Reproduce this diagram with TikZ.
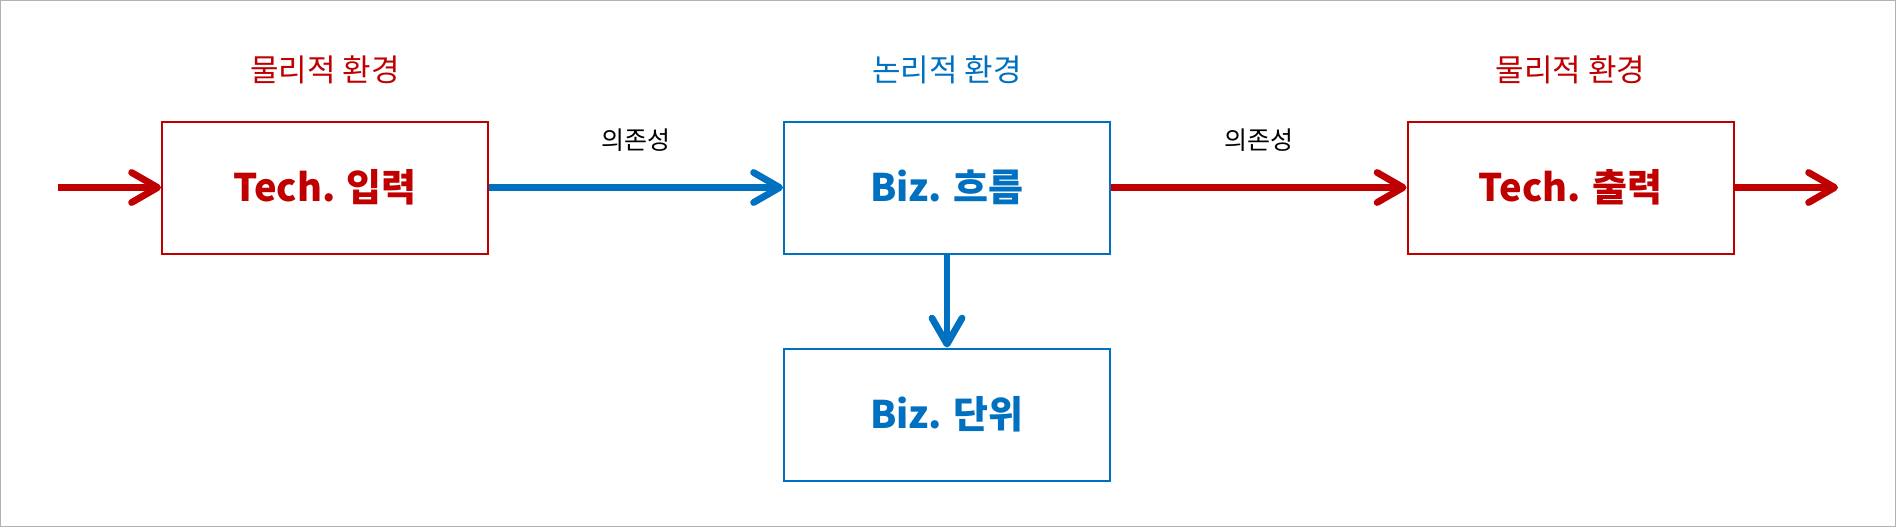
\documentclass[tikz,border=0pt]{standalone}
\usepackage{fontspec}
\setmainfont{Noto Sans CJK KR}
\usetikzlibrary{arrows.meta,positioning}
\definecolor{techred}{RGB}{192,0,0}
\definecolor{bizblue}{RGB}{0,112,192}

\begin{document}
\begin{tikzpicture}[x=0.5pt, y=-0.5pt,
    box/.style={draw=#1, text=#1, line width=1pt, fill=white, minimum width=163pt, minimum height=66pt,
      font=\bfseries\fontsize{19}{22}\selectfont},
    envlabel/.style={text=#1, font=\fontsize{15.5}{18}\selectfont},
    deplabel/.style={font=\fontsize{12.5}{15}\selectfont},
    flow/.style={draw=#1, line width=3.4pt, -{Straight Barb[length=13pt,width=15pt,round]}}]
  \useasboundingbox (0,0) rectangle (1896,527);
  \draw[gray!60, line width=0.5pt] (0.5,0.5) rectangle (1895.5,526.5);

  %% boxes
  \node[box=techred] (tin) at (325,187.5) {Tech. 입력};
  \node[box=bizblue] (bflow) at (947,187.5) {Biz. 흐름};
  \node[box=bizblue] (bunit) at (947,414.5) {Biz. 단위};
  \node[box=techred] (tout) at (1570.5,187.5) {Tech. 출력};

  %% environment labels
  \node[envlabel=techred] (envin) at (325,70) {물리적 환경};
  \node[envlabel=bizblue] (envflow) at (947,70) {논리적 환경};
  \node[envlabel=techred] (envout) at (1570.5,70) {물리적 환경};

  %% free ends
  \coordinate (start) at (58,187.5);
  \coordinate (finish) at (1838,187.5);

  %% connectors
  \draw[flow=techred] (start) -- (tin);
  \draw[flow=bizblue] (tin) -- node[deplabel, above=13pt] {의존성} (bflow);
  \draw[flow=techred] (bflow) -- node[deplabel, above=13pt] {의존성} (tout);
  \draw[flow=bizblue] (bflow) -- (bunit);
  \draw[flow=techred] (tout) -- (finish);
\end{tikzpicture}
\end{document}
